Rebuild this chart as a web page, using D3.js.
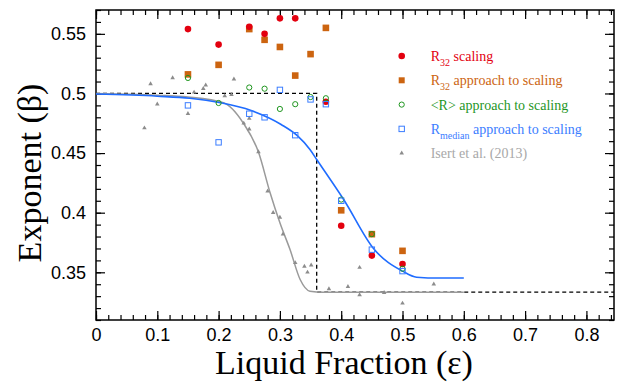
<!DOCTYPE html>
<html>
<head>
<meta charset="utf-8">
<script src="https://cdn.jsdelivr.net/npm/d3@7"></script>
<style>
  body { margin: 0; background: #fff; }
  .tick text { font-family: "Liberation Sans", Arial, sans-serif; font-size: 18px; fill: #000; }
  .axis-label { font-family: "Liberation Serif", "Times New Roman", serif; font-size: 34px; fill: #000; }
  .legend text { font-family: "Liberation Serif", "Times New Roman", serif; font-size: 14px; }
</style>
</head>
<body>
<svg class="chart" width="623" height="383"></svg>
<script>
// values
var epsR = [0.15, 0.2, 0.25, 0.275, 0.3, 0.325, 0.375, 0.4, 0.45, 0.5];
var r32Scaling = [0.554, 0.541, 0.556, 0.55, 0.563, 0.563, 0.493, 0.389, 0.364, 0.357];

var eps = [0.15, 0.2, 0.25, 0.275, 0.3, 0.325, 0.35, 0.375, 0.4, 0.45, 0.5];
var r32Approach = [0.516, 0.524, 0.554, 0.545, 0.539, 0.515, 0.533, 0.555, 0.402, 0.382, 0.368];
var rMeanApproach = [0.513, 0.492, 0.505, 0.504, 0.487, 0.491, 0.497, 0.496, 0.411, 0.382, 0.353];
var rMedianApproach = [0.490, 0.459, 0.483, 0.480, 0.503, 0.465, 0.495, 0.491, 0.410, 0.369, 0.351];

var isertX = [0.079, 0.089, 0.1, 0.125, 0.15, 0.16, 0.175, 0.179, 0.21, 0.221, 0.225, 0.241, 0.25, 0.25, 0.265,
              0.28, 0.289, 0.3, 0.305, 0.325, 0.34, 0.345, 0.351, 0.38, 0.411, 0.43, 0.43, 0.47, 0.5, 0.551];
var isertY = [0.471, 0.508, 0.491, 0.513, 0.483, 0.501, 0.504, 0.507, 0.498, 0.499, 0.512, 0.475, 0.479, 0.470, 0.451,
              0.418, 0.400, 0.396, 0.382, 0.358, 0.355, 0.350, 0.356, 0.336, 0.338, 0.354, 0.331, 0.333, 0.324, 0.340];

// fitted curves
var blueFitX = [0, 0.1, 0.153, 0.203, 0.253, 0.302, 0.328, 0.349, 0.36, 0.405, 0.453, 0.5, 0.523, 0.56, 0.6];
var blueFitY = [0.4995, 0.4977, 0.496, 0.4922, 0.4857, 0.474, 0.4648, 0.453, 0.4446, 0.4102, 0.3697, 0.351, 0.3459, 0.3452, 0.3452];
var grayFitX = [0, 0.1, 0.15, 0.208, 0.24, 0.265, 0.284, 0.3, 0.3165, 0.333, 0.349, 0.37, 0.6];
var grayFitY = [0.5, 0.4985, 0.497, 0.4922, 0.4754, 0.4508, 0.4167, 0.3915, 0.3691, 0.344, 0.3342, 0.3333, 0.3333];

// dashed step: 0.5 -> 1/3 at eps = 0.36
var stepX = [0, 0.36, 0.36, 0.845];
var stepY = [0.5, 0.5, 0.3333, 0.3333];

var xMajor = [0, 0.1, 0.2, 0.3, 0.4, 0.5, 0.6, 0.7, 0.8];
var yMajor = [0.35, 0.4, 0.45, 0.5, 0.55];

var legendItems = [
  { sym: "dot", color: "#e3000f", label: "R", sub: "32", rest: " scaling" },
  { sym: "sq", color: "#cc6410", label: "R", sub: "32", rest: " approach to scaling" },
  { sym: "ring", color: "#1f961f", label: "<R> approach to scaling", sub: null, rest: "" },
  { sym: "box", color: "#3b7dff", label: "R", sub: "median", rest: " approach to scaling" },
  { sym: "tri", color: "#a8a8a8", label: "Isert et al. (2013)", sub: null, rest: "" }
];

var margin = { top: 10, right: 9, bottom: 63, left: 96 };
var width = 623 - margin.left - margin.right,
    height = 383 - margin.top - margin.bottom;

var svg = d3.select(".chart")
  .append("g")
  .attr("transform", "translate(" + margin.left + "," + margin.top + ")");

var x = d3.scaleLinear().domain([0, 0.845]).range([0, width]);
var y = d3.scaleLinear().domain([0.31, 0.57]).range([height, 0]);

var fmt = d => String(+d.toFixed(2));
var xMinor = d3.range(0, 0.845, 0.02);
var yMinor = d3.range(0.31, 0.5705, 0.01);

// axes, ticks pointing inward on all four sides
function drawAxis(axisFn, scale, major, minor, tr, pad) {
  var gMin = svg.append("g").attr("transform", tr)
    .call(axisFn(scale).tickValues(minor).tickSize(-5).tickFormat(""));
  var gMaj = svg.append("g").attr("transform", tr)
    .call(axisFn(scale).tickValues(major).tickSize(-9).tickSizeOuter(0).tickPadding(pad || 0).tickFormat(pad ? fmt : ""));
  [gMin, gMaj].forEach(g => {
    g.select(".domain").remove();
    g.selectAll(".tick line").attr("stroke", "#000").attr("stroke-width", 1.2);
  });
  return gMaj;
}
drawAxis(d3.axisBottom, x, xMajor, xMinor, "translate(0," + height + ")", 8);
drawAxis(d3.axisTop, x, xMajor, xMinor, "translate(0,0)", 0);
drawAxis(d3.axisLeft, y, yMajor, yMinor, "translate(0,0)", 10);
drawAxis(d3.axisRight, y, yMajor, yMinor, "translate(" + width + ",0)", 0);

svg.append("rect")
  .attr("width", width).attr("height", height)
  .attr("fill", "none").attr("stroke", "#000").attr("stroke-width", 1.5);

// dashed step
var line = d3.line().x(d => x(d[0])).y(d => y(d[1]));
svg.append("path")
  .datum(d3.zip(stepX, stepY))
  .attr("d", line)
  .attr("fill", "none").attr("stroke", "#000").attr("stroke-width", 1.3)
  .attr("stroke-dasharray", "4,3");

var smooth = d3.line().x(d => x(d[0])).y(d => y(d[1])).curve(d3.curveMonotoneX);
svg.append("path")
  .datum(d3.zip(grayFitX, grayFitY))
  .attr("d", smooth)
  .attr("fill", "none").attr("stroke", "#9a9a9a").attr("stroke-width", 1.5);

// Isert et al. triangles
var tri = d3.symbol().type(d3.symbolTriangle).size(9);
svg.append("g").selectAll("path")
  .data(d3.zip(isertX, isertY))
  .enter().append("path")
  .attr("d", tri)
  .attr("transform", d => "translate(" + x(d[0]) + "," + y(d[1]) + ")")
  .attr("fill", "#8c8c8c");

svg.append("path")
  .datum(d3.zip(blueFitX, blueFitY))
  .attr("d", smooth)
  .attr("fill", "none").attr("stroke", "#1f6cff").attr("stroke-width", 1.6);

// R32 approach squares
svg.append("g").selectAll("rect")
  .data(d3.zip(eps, r32Approach))
  .enter().append("rect")
  .attr("x", d => x(d[0]) - 3.3).attr("y", d => y(d[1]) - 3.3)
  .attr("width", 6.6).attr("height", 6.6)
  .attr("fill", legendItems[1].color);

// R32 scaling dots
svg.append("g").selectAll("circle")
  .data(d3.zip(epsR, r32Scaling))
  .enter().append("circle")
  .attr("cx", d => x(d[0])).attr("cy", d => y(d[1])).attr("r", 3.3)
  .attr("fill", legendItems[0].color);

// <R> rings
svg.append("g").selectAll("circle")
  .data(d3.zip(eps, rMeanApproach))
  .enter().append("circle")
  .attr("cx", d => x(d[0])).attr("cy", d => y(d[1])).attr("r", 2.6)
  .attr("fill", "none").attr("stroke", legendItems[2].color).attr("stroke-width", 1);

// R median boxes
svg.append("g").selectAll("rect")
  .data(d3.zip(eps, rMedianApproach))
  .enter().append("rect")
  .attr("x", d => x(d[0]) - 2.7).attr("y", d => y(d[1]) - 2.7)
  .attr("width", 5.4).attr("height", 5.4)
  .attr("fill", "none").attr("stroke", legendItems[3].color).attr("stroke-width", 1);

// legend
var lg = svg.append("g").attr("class", "legend")
  .attr("transform", "translate(" + (401.7 - margin.left) + "," + (56 - margin.top) + ")");
var rows = lg.selectAll("g").data(legendItems).enter().append("g")
  .attr("transform", (d, i) => "translate(0," + (i * 24.3) + ")");
rows.each(function(d) {
  var g = d3.select(this);
  if (d.sym == "dot") g.append("circle").attr("r", 3.3).attr("fill", d.color);
  if (d.sym == "sq") g.append("rect").attr("x", -3).attr("y", -3).attr("width", 6).attr("height", 6).attr("fill", d.color);
  if (d.sym == "ring") g.append("circle").attr("r", 2.6).attr("fill", "none").attr("stroke", d.color);
  if (d.sym == "box") g.append("rect").attr("x", -2.7).attr("y", -2.7).attr("width", 5.4).attr("height", 5.4).attr("fill", "none").attr("stroke", d.color);
  if (d.sym == "tri") g.append("path").attr("d", tri).attr("fill", "#8c8c8c");
  var t = g.append("text").attr("x", 29).attr("y", 5).attr("fill", d.color);
  t.append("tspan").text(d.label);
  if (d.sub) {
    t.append("tspan").attr("dy", 5).attr("font-size", "10px").text(d.sub);
    t.append("tspan").attr("dy", -5).text(d.rest);
  }
});

// axis labels
svg.append("text")
  .attr("class", "axis-label")
  .attr("text-anchor", "middle")
  .attr("x", 344 - margin.left)
  .attr("y", 374 - margin.top)
  .text("Liquid Fraction (ε)");
svg.append("text")
  .attr("class", "axis-label")
  .attr("text-anchor", "middle")
  .attr("transform", "translate(" + (41 - margin.left) + "," + (173 - margin.top) + ") rotate(-90)")
  .text("Exponent (β)");
</script>
</body>
</html>
